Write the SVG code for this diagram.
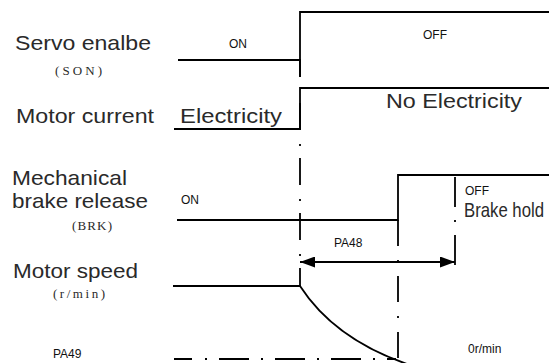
<svg xmlns="http://www.w3.org/2000/svg" width="549" height="363" viewBox="0 0 549 363">
<style>
.lbl{font-family:"Liberation Sans",Arial,sans-serif;font-size:21px;fill:#2a2a2a}
.sub{font-family:"Liberation Serif","Noto Sans CJK SC",serif;font-size:13px;fill:#2a2a2a}
.sm{font-family:"Liberation Sans",Arial,sans-serif;font-size:12px;fill:#111}
.sig{fill:none;stroke:#000;stroke-width:1.8}
.dd{fill:none;stroke:#000;stroke-width:1.8}
</style>
<defs>
<marker id="ah" markerUnits="userSpaceOnUse" markerWidth="15" markerHeight="11" refX="15" refY="5.5" orient="auto-start-reverse">
<path d="M0,0 L15,5.5 L0,11 z" fill="#000"/>
</marker>
</defs>
<rect width="549" height="363" fill="#fff"/>

<g id="servo-enable">
<text class="lbl" x="15" y="50" textLength="136" lengthAdjust="spacingAndGlyphs">Servo enalbe</text>
<text class="sub" x="55" y="75" textLength="47" lengthAdjust="spacing">(SON)</text>
<polyline class="sig" points="178,60 300,60 300,77"/>
<polyline class="sig" points="300,77 300,12 549,12"/>
<text class="sm" x="229" y="48" font-size="11">ON</text>
<text class="sm" x="423" y="39">OFF</text>
</g>

<g id="motor-current">
<text class="lbl" x="16" y="123" textLength="138" lengthAdjust="spacingAndGlyphs">Motor current</text>
<text class="lbl" x="180" y="123" textLength="102" lengthAdjust="spacingAndGlyphs">Electricity</text>
<text class="lbl" x="386" y="108" textLength="136" lengthAdjust="spacingAndGlyphs">No Electricity</text>
<polyline class="sig" points="174,129 300,129 300,88 549,88"/>
</g>

<g id="brake-release">
<text class="lbl" x="12" y="185" textLength="115" lengthAdjust="spacingAndGlyphs">Mechanical</text>
<text class="lbl" x="12" y="208" textLength="136" lengthAdjust="spacingAndGlyphs">brake release</text>
<text class="sub" x="72" y="230" textLength="40" lengthAdjust="spacing">(BRK)</text>
<text class="sm" x="181" y="204">ON</text>
<polyline class="sig" points="177,220 398,220 398,175 549,175"/>
<text class="sm" x="465" y="195">OFF</text>
<text class="lbl" x="464" y="217" font-size="16" textLength="80" lengthAdjust="spacingAndGlyphs">Brake hold</text>
</g>

<g id="motor-speed">
<text class="lbl" x="13" y="278" textLength="125" lengthAdjust="spacingAndGlyphs">Motor speed</text>
<text class="sub" x="53" y="298" textLength="52" lengthAdjust="spacing">(r/min)</text>
<path class="sig" d="M173,286 L300,286 Q335,340 410,365"/>
<text class="sm" x="53" y="358" font-size="13">PA49</text>
<text class="sm" x="468" y="353" font-size="13">0r/min</text>
</g>

<g id="connectors">
<line class="dd" x1="300" y1="103" x2="300" y2="286" stroke-dasharray="27 14 2 12"/>
<line class="dd" x1="398" y1="220" x2="398" y2="360" stroke-dasharray="26 14 2 14"/>
<line class="dd" x1="455" y1="177" x2="455" y2="267" stroke-dasharray="30 13 2 13"/>
<line class="dd" x1="174" y1="359" x2="396" y2="359" stroke-dasharray="18 13 2 12 30 12 2 12 30 12 2 12 30 12 2 12 30 12 2 12"/>
<line class="sig" x1="300" y1="262" x2="455" y2="262" marker-start="url(#ah)" marker-end="url(#ah)"/>
<text class="sm" x="334" y="247" font-size="13">PA48</text>
</g>
</svg>
